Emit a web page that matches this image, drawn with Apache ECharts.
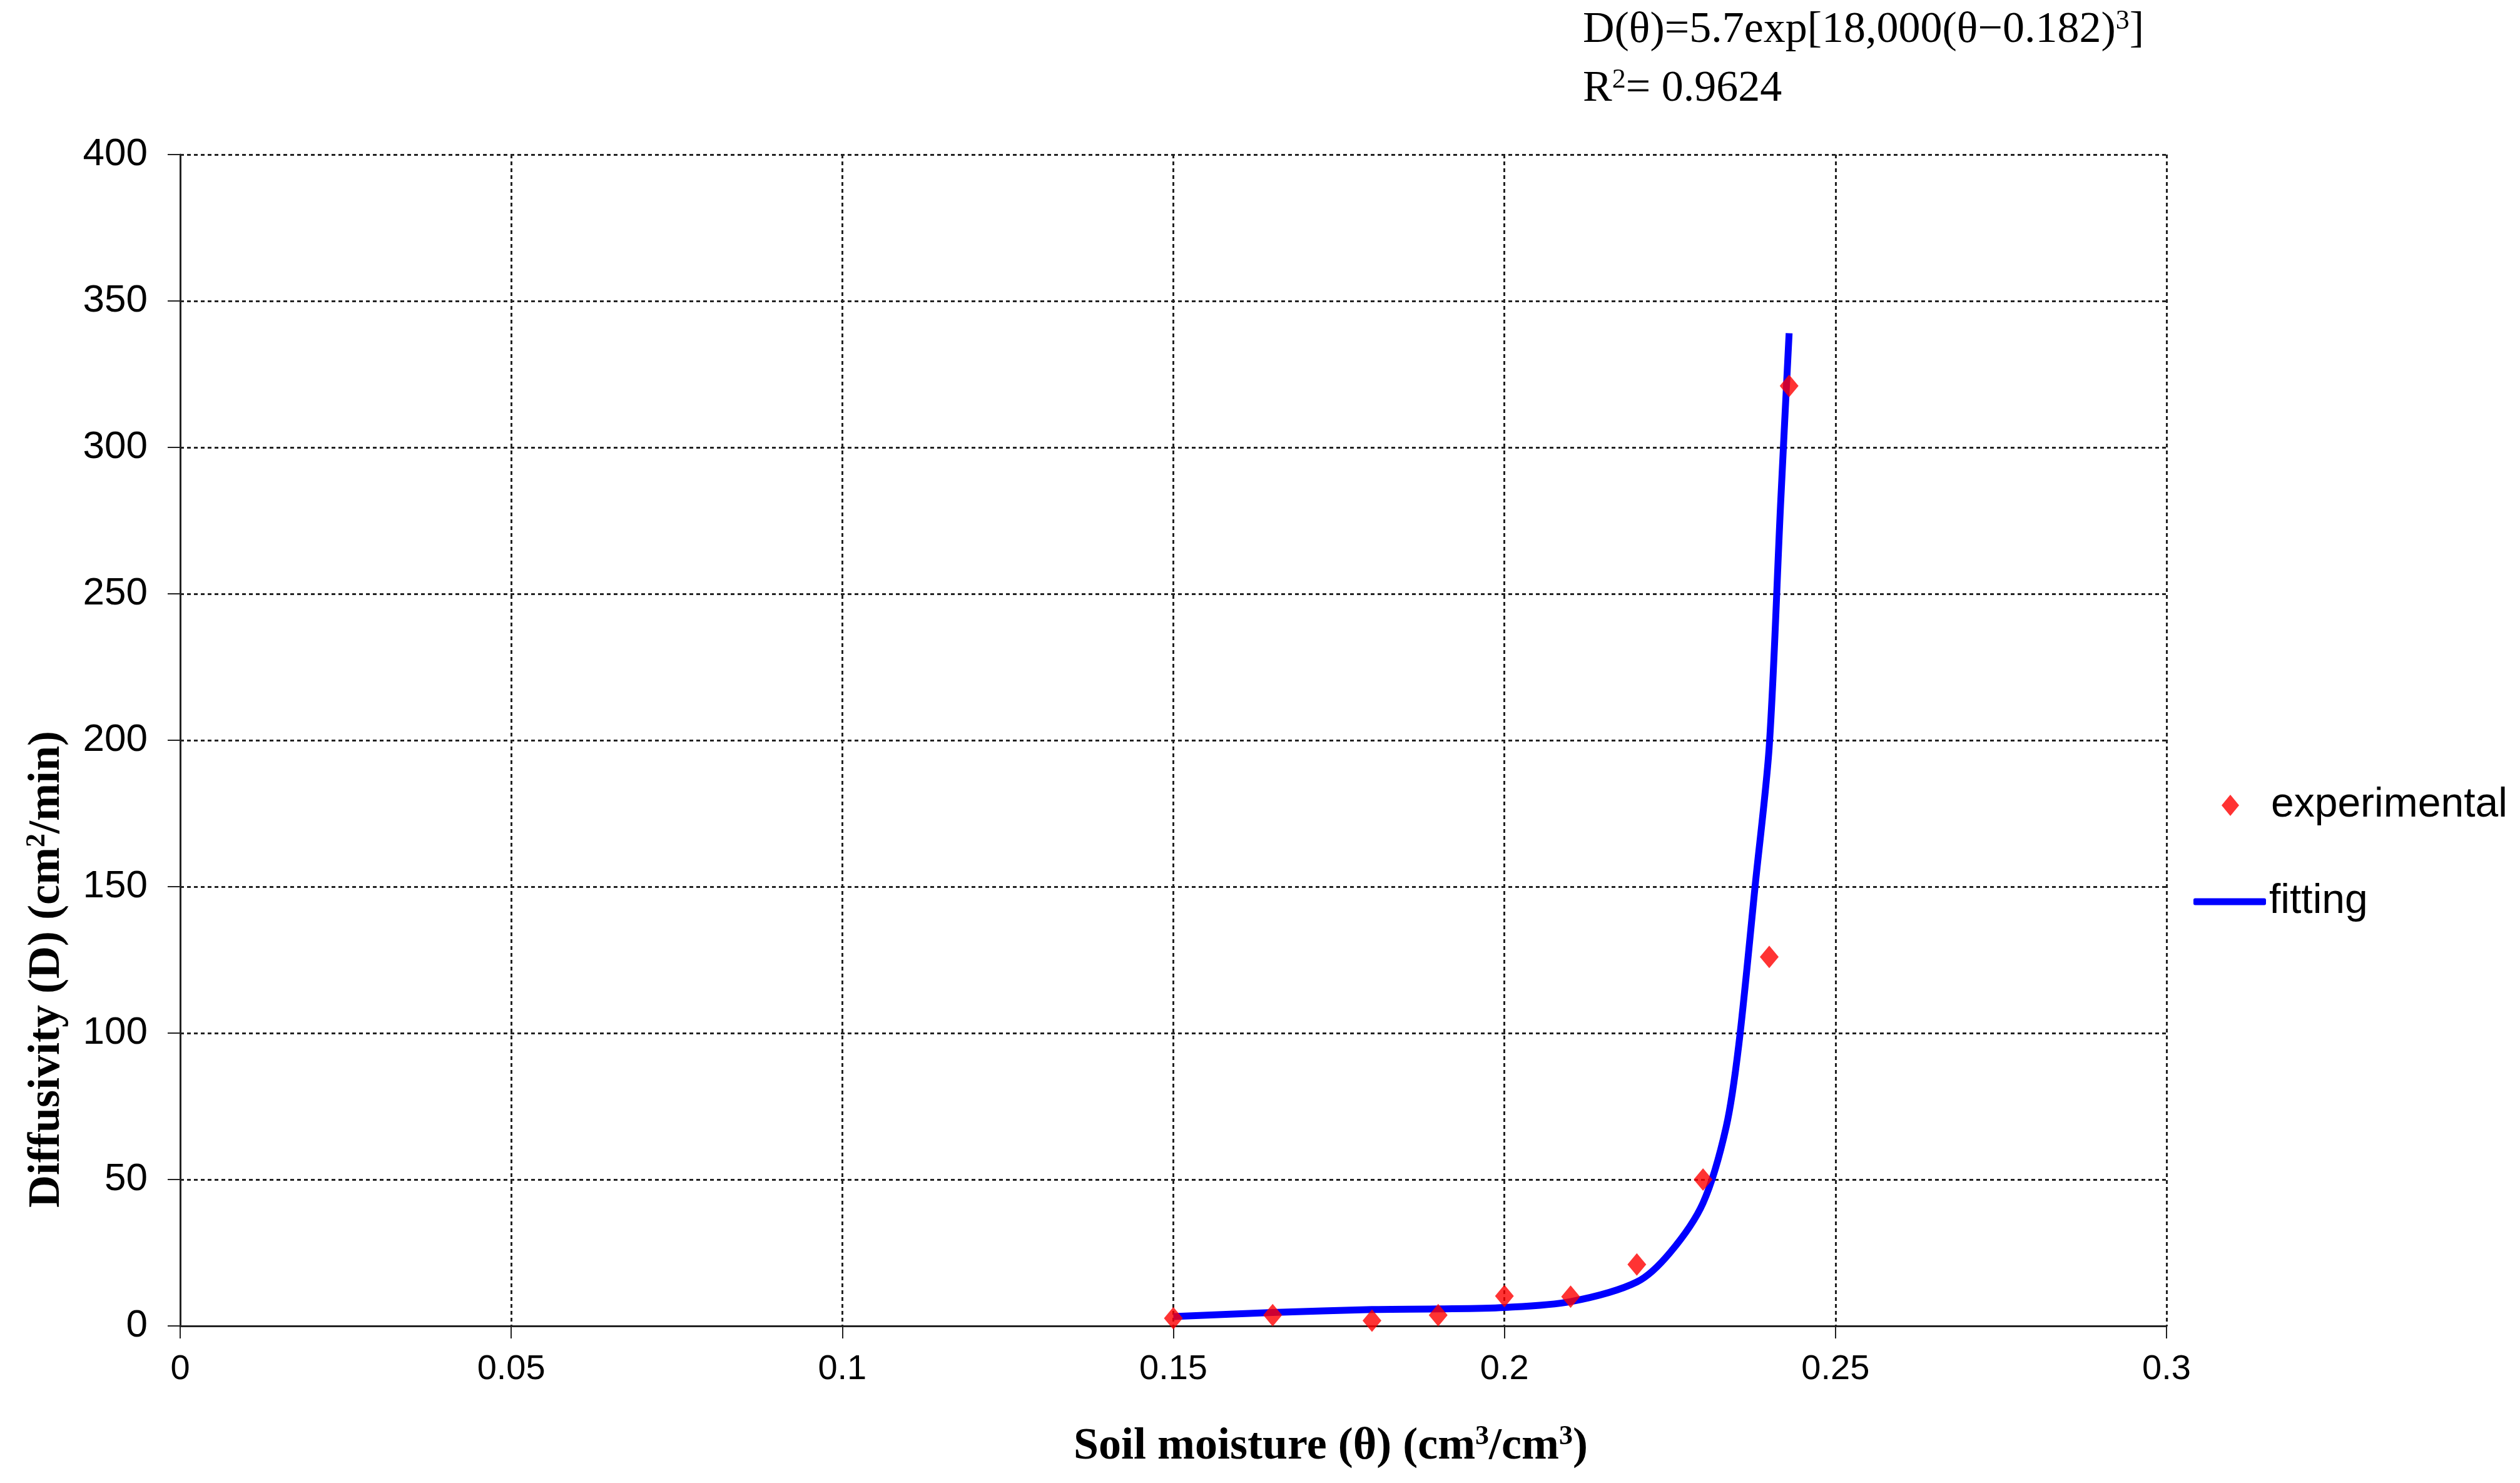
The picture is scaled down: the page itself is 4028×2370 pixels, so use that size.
<!DOCTYPE html>
<html>
<head>
<meta charset="utf-8">
<script src="https://cdn.jsdelivr.net/npm/echarts@6/dist/echarts.min.js"></script>
<style>html,body{margin:0;padding:0;background:#fff}#c{width:4028px;height:2370px}</style>
</head>
<body>
<div id="c"></div>
<script>
// Experimental points
const expTheta = [0.15, 0.165, 0.18, 0.19, 0.2, 0.21, 0.22, 0.23, 0.24, 0.243];
const expD     = [2.6, 3.7, 1.8, 3.7, 10.2, 10, 21, 50, 126, 321];
// Fitting curve
const fitTheta = [0.15, 0.165, 0.18, 0.19, 0.2, 0.21, 0.22, 0.225, 0.23, 0.2335, 0.2354, 0.2379, 0.24, 0.2417, 0.243];
const fitD     = [3.2, 4.6, 5.6, 5.8, 6.3, 8.3, 15, 25, 42, 68, 96, 151, 198, 280, 339];
// Axis ticks
const xTicks = [0, 0.05, 0.1, 0.15, 0.2, 0.25, 0.3];
const yTicks = [0, 50, 100, 150, 200, 250, 300, 350, 400];
const xTitle = ['Soil moisture (θ) (cm', '3', '/cm', '3', ')'];
const yTitle = ['Diffusivity (D) (cm', '2', '/min)'];
const equationText = 'D(θ)=5.7exp[18,000(θ−0.182)';
const r2Text = '= 0.9624';

const chart = echarts.init(document.getElementById('c'));
const serif = '"Liberation Serif", "DejaVu Serif", serif';
const sans = '"Liberation Sans", Arial, sans-serif';

const titleRich = {
  a: { fontFamily: serif, fontWeight: 'bold', fontSize: 72, fill: '#000' },
  s: { fontFamily: serif, fontWeight: 'bold', fontSize: 44, fill: '#000', verticalAlign: 'top', padding: [0, 0, 30, 0] }
};
const eqRich = {
  a: { fontFamily: serif, fontSize: 70, fill: '#000' },
  s: { fontFamily: serif, fontSize: 44, fill: '#000', verticalAlign: 'top', padding: [0, 0, 30, 0] }
};
const gridLine = { color: '#222', width: 3, type: [6, 5] };

chart.setOption({
  backgroundColor: '#ffffff',
  animation: false,
  grid: { left: 288, right: 565, top: 247, bottom: 251, containLabel: false },
  xAxis: {
    type: 'value', min: xTicks[0], max: xTicks[xTicks.length - 1], interval: 0.05,
    axisLine: { show: true, onZero: false, lineStyle: { color: '#222', width: 3 } },
    axisTick: { show: true, inside: false, length: 20, lineStyle: { color: '#222', width: 2 } },
    axisLabel: { margin: 42, fontFamily: sans, fontSize: 56, color: '#000',
      formatter: v => String(+v.toFixed(2)) },
    splitLine: { show: true, lineStyle: gridLine }
  },
  yAxis: {
    type: 'value', min: yTicks[0], max: yTicks[yTicks.length - 1], interval: 50,
    axisLine: { show: true, lineStyle: { color: '#222', width: 3 } },
    axisTick: { show: true, inside: false, length: 20, lineStyle: { color: '#222', width: 2 } },
    axisLabel: { margin: 52, fontFamily: sans, fontSize: 62, color: '#000' },
    splitLine: { show: true, lineStyle: gridLine }
  },
  legend: [
    {
      orient: 'vertical', left: 3546, top: 1249,
      itemWidth: 28, itemHeight: 34,
      textStyle: { fontFamily: sans, fontSize: 66, color: '#000', padding: [0, 0, 0, 46] },
      data: [{ name: 'experimental', icon: 'diamond' }]
    },
    {
      orient: 'vertical', left: 3501, top: 1403,
      itemWidth: 116, itemHeight: 11,
      textStyle: { fontFamily: sans, fontSize: 66, color: '#000' },
      data: [{ name: 'fitting', icon: 'roundRect', itemStyle: { color: '#0000ff' } }]
    }
  ],
  series: [
    {
      name: 'fitting', type: 'line', smooth: 0.3, symbol: 'none',
      lineStyle: { color: '#0000ff', width: 11 }, itemStyle: { color: '#0000ff' },
      data: fitTheta.map((t, i) => [t, fitD[i]]), z: 2
    },
    {
      name: 'experimental', type: 'scatter', symbol: 'diamond', symbolSize: [30, 36],
      itemStyle: { color: '#ff0000' },
      data: expTheta.map((t, i) => [t, expD[i]]), z: 3
    }
  ],
  graphic: [
    { type: 'text', left: 2530, top: 12,
      style: { text: '{a|' + equationText + '}{s|3}{a|]}', rich: eqRich } },
    { type: 'text', left: 2530, top: 106,
      style: { text: '{a|R}{s|2}{a|' + r2Text + '}', rich: eqRich } },
    { type: 'text', x: 2127, y: 2312,
      style: { text: '{a|' + xTitle[0] + '}{s|' + xTitle[1] + '}{a|' + xTitle[2] + '}{s|' + xTitle[3] + '}{a|' + xTitle[4] + '}',
        rich: titleRich, align: 'center', verticalAlign: 'middle' } },
    { type: 'text', x: 75, y: 1549, rotation: Math.PI / 2,
      style: { text: '{a|' + yTitle[0] + '}{s|' + yTitle[1] + '}{a|' + yTitle[2] + '}',
        rich: titleRich, align: 'center', verticalAlign: 'middle' } }
  ]
});
</script>
</body>
</html>
